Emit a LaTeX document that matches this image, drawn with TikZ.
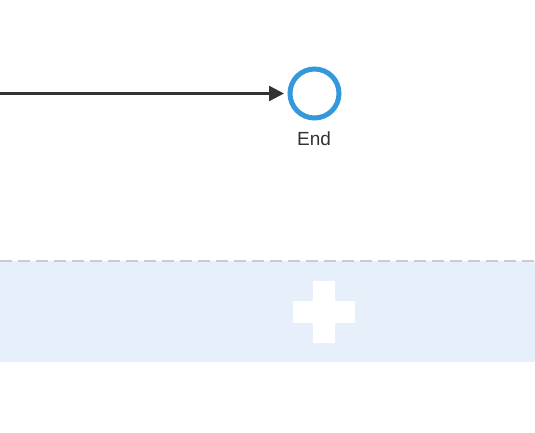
\documentclass[tikz,border=0pt]{standalone}
\usepackage{fontspec}
\setmainfont{Liberation Sans}
\usetikzlibrary{arrows.meta}
\definecolor{evblue}{RGB}{52,152,219}
\definecolor{linegray}{RGB}{51,51,51}
\definecolor{bandblue}{RGB}{231,240,250}
\definecolor{dashgray}{RGB}{204,204,204}
\tikzset{
  endevent/.style={circle,draw=evblue,line width=5pt,minimum size=49pt,inner sep=0pt,fill=white},
  flow/.style={draw=linegray,line width=2.4pt,-{Triangle[length=15pt,width=15pt]},shorten >=3.5pt},
  lbl/.style={font=\fontsize{19pt}{22pt}\selectfont,text=linegray,inner sep=0pt,anchor=base},
  band/.style={fill=bandblue,draw=none},
  dashline/.style={draw=dashgray,line width=2pt,dash pattern=on 12pt off 6pt},
  plusbar/.style={fill=white,draw=none}
}
\begin{document}
\begin{tikzpicture}[x=1pt,y=-1pt]
\useasboundingbox (0,0) rectangle (535,433);
\fill[white] (0,0) rectangle (535,433);
% lane band
\path[band] (0,261) rectangle (535,362);
\path[dashline] (0,261) -- (535,261);
% plus
\path[plusbar] (313,281) rectangle (335,343);
\path[plusbar] (293,301) rectangle (355,323);
% end event
\node[endevent] (end) at (314.5,93.5) {};
\node[lbl] (endlbl) at (314,145.7) {End};
\coordinate (src) at (0,93.5);
\draw[flow] (src) -- (end);
\end{tikzpicture}
\end{document}
